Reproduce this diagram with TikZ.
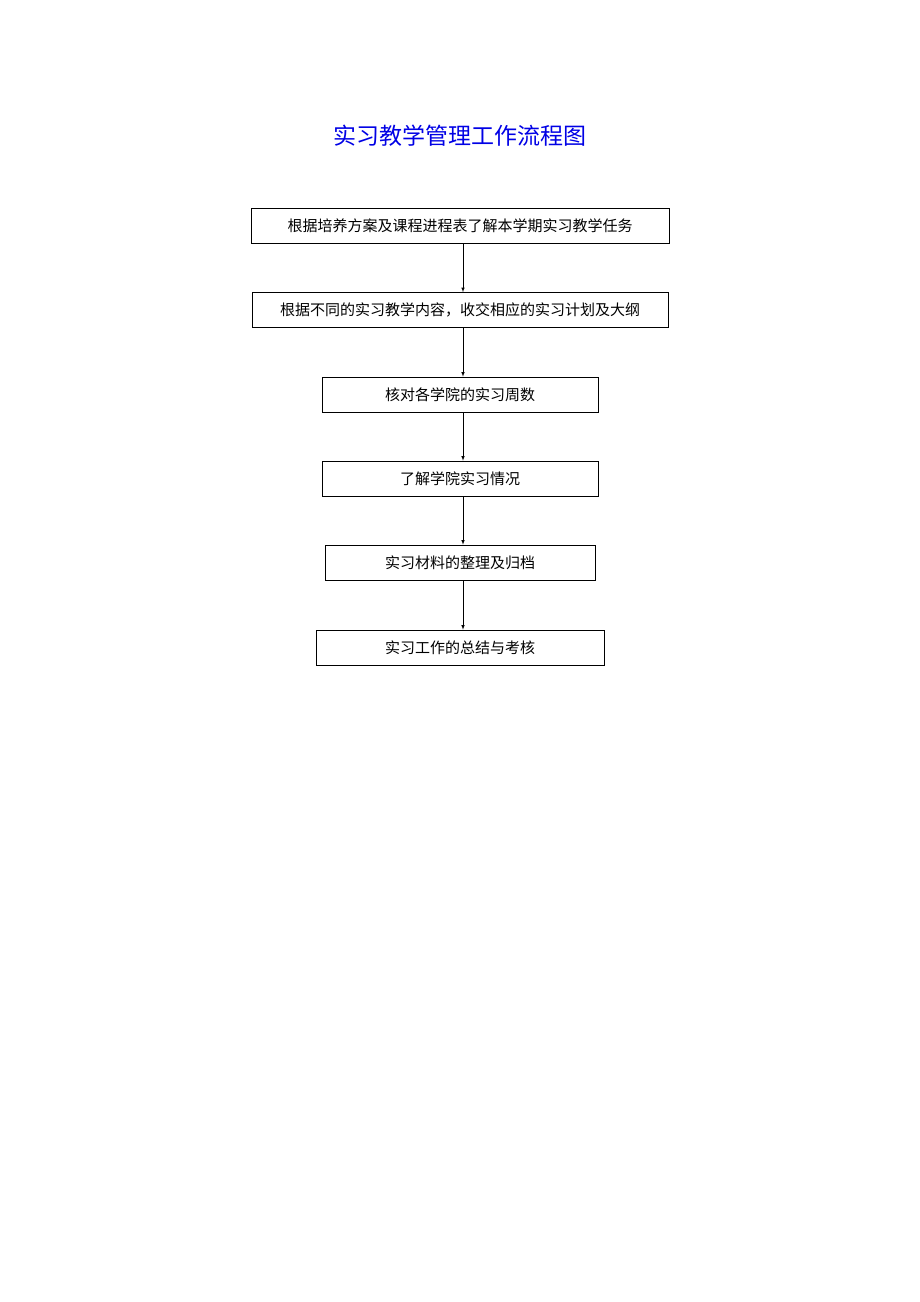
\documentclass[tikz,border=0pt]{standalone}
\usepackage{fontspec}
\newfontfamily\cjk{Noto Sans CJK SC}
\usetikzlibrary{positioning}
\tikzset{
  stepbox/.style={draw, line width=0.6pt, inner sep=0pt, minimum height=35pt, font=\cjk\fontsize{15pt}{18pt}\selectfont},
  flowarrow/.style={-latex, line width=0.6pt}
}
\begin{document}
\begin{tikzpicture}[x=1pt,y=1pt,yscale=-1]
\useasboundingbox (0,0) rectangle (920,1302);
% title
\node (title) at (460,136) {\cjk\fontsize{23pt}{27pt}\selectfont\color[rgb]{0,0,0.9}实习教学管理工作流程图};
% steps
\node[stepbox, minimum width=418pt] (s1) at (460,226) {根据培养方案及课程进程表了解本学期实习教学任务};
\node[stepbox, minimum width=416pt] (s2) at (460,310) {根据不同的实习教学内容，收交相应的实习计划及大纲};
\node[stepbox, minimum width=276pt] (s3) at (460,394.5) {核对各学院的实习周数};
\node[stepbox, minimum width=276pt] (s4) at (460,478.5) {了解学院实习情况};
\node[stepbox, minimum width=270pt] (s5) at (460,562.5) {实习材料的整理及归档};
\node[stepbox, minimum width=288pt] (s6) at (460,647.5) {实习工作的总结与考核};
% connectors
\foreach \a/\b in {s1/s2,s2/s3,s3/s4,s4/s5,s5/s6}
  \draw[flowarrow] ([xshift=3pt]\a.south) -- ([xshift=3pt]\b.north);
\end{tikzpicture}
\end{document}
